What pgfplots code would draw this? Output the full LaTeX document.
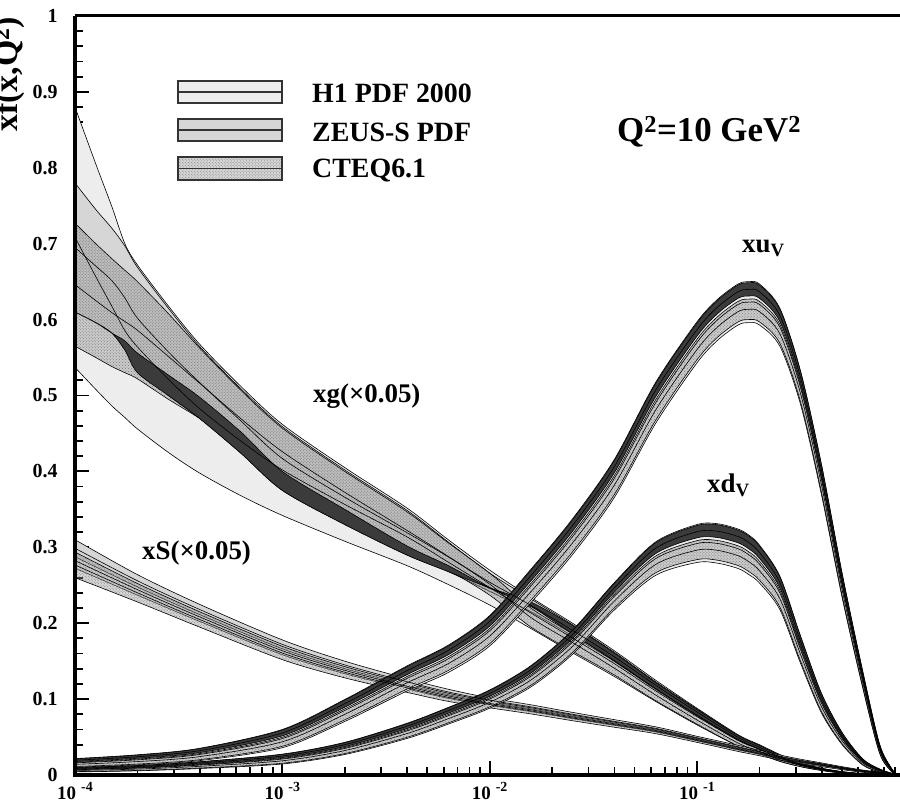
\documentclass[border=0pt]{standalone}
\usepackage{fontspec}
\setmainfont{Liberation Serif}
\usepackage{pgfplots}
\pgfplotsset{compat=1.18}
\usepackage{pgfplotstable}
\usepgfplotslibrary{fillbetween}
\usetikzlibrary{patterns}

\definecolor{hone}{gray}{0.93}
\definecolor{zmed}{gray}{0.84}
\definecolor{zdark}{gray}{0.23}

\tikzset{
  h1band/.style={fill=hone, draw=black, line width=0.6bp},
  zmedband/.style={fill=zmed, draw=black, line width=0.6bp},
  zdarkband/.style={fill=zdark, draw=black, line width=0.6bp},
  cteqband/.style={fill=black!40, fill opacity=0.4, draw=black, draw opacity=1,
    line width=0.6bp, postaction={pattern=crosshatch dots, pattern color=black!75, fill opacity=0.6}},
  centralline/.style={black, line width=0.6bp},
}

% gluon xg (x0.05): H1, ZEUS-S, CTEQ6.1 band edges and the dark ZEUS-S strip
\pgfplotstableread{
x hl hh zl zh cl ch dl dh
1e-4 0.537 0.880 0.610 0.780 0.565 0.727 0.610 0.610
1.26e-4 0.508 0.805 0.596 0.745 0.550 0.700 0.596 0.596
1.51e-4 0.486 0.748 0.582 0.720 0.538 0.680 0.582 0.582
1.74e-4 0.471 0.700 0.560 0.697 0.530 0.665 0.560 0.572
2e-4 0.456 0.672 0.535 0.669 0.522 0.650 0.530 0.556
2.82e-4 0.425 0.618 0.500 0.615 0.495 0.608 0.500 0.527
3.98e-4 0.398 0.568 0.470 0.565 0.470 0.563 0.470 0.498
6.31e-4 0.368 0.512 0.424 0.509 0.432 0.507 0.424 0.452
1e-3 0.342 0.462 0.375 0.459 0.395 0.457 0.375 0.400
2e-3 0.308 0.405 0.330 0.402 0.345 0.400 0.330 0.350
3.98e-3 0.276 0.352 0.290 0.349 0.298 0.347 0.290 0.302
6.31e-3 0.251 0.310 0.268 0.307 0.270 0.306 0.268 0.276
1e-2 0.224 0.270 0.242 0.266 0.237 0.266 0.246 0.247
1.58e-2 0.193 0.234 0.215 0.232 0.195 0.220 0.222 0.228
2.51e-2 0.161 0.200 0.183 0.198 0.163 0.186 0.186 0.197
3.98e-2 0.130 0.164 0.150 0.162 0.132 0.150 0.151 0.161
6.31e-2 0.097 0.125 0.114 0.123 0.098 0.113 0.114 0.122
0.1 0.066 0.088 0.079 0.087 0.067 0.078 0.079 0.086
0.158 0.038 0.053 0.047 0.052 0.038 0.046 0.047 0.052
0.2 0.028 0.040 0.034 0.039 0.028 0.034 0.034 0.039
0.251 0.018 0.027 0.022 0.026 0.018 0.022 0.022 0.026
0.316 0.011 0.016 0.013 0.0155 0.011 0.014 0.013 0.0155
0.398 0.006 0.009 0.0075 0.0088 0.006 0.0076 0.0075 0.0088
0.501 0.0025 0.0045 0.0035 0.0043 0.0025 0.0036 0.0035 0.0043
0.631 0.0008 0.0018 0.0013 0.0017 0.0008 0.0014 0.0013 0.0017
0.759 0.0002 0.0006 0.0004 0.0006 0.0002 0.0005 0.0004 0.0006
0.871 0 0.0002 0.0001 0.0002 0 0.0001 0.0001 0.0002
0.922 0 0 0 0 0 0 0 0
}\xg

% sea xS (x0.05): central value c and half width h of the combined band
\pgfplotstableread{
x c h
1e-4 0.285 0.025
2e-4 0.246 0.018
3.98e-4 0.210 0.015
1e-3 0.165 0.013
2e-3 0.139 0.011
3.98e-3 0.118 0.009
6.31e-3 0.105 0.008
1e-2 0.095 0.0065
1.58e-2 0.0865 0.006
2.51e-2 0.077 0.0055
3.98e-2 0.068 0.005
6.31e-2 0.059 0.0045
0.1 0.047 0.004
0.126 0.041 0.004
0.158 0.035 0.004
0.178 0.032 0.0038
0.2 0.029 0.0036
0.251 0.023 0.0033
0.316 0.0178 0.003
0.398 0.0135 0.0025
0.501 0.009 0.002
0.631 0.005 0.0015
0.759 0.003 0.001
0.871 0.0012 0.0005
0.922 0.0005 0.0002
}\xs

% valence xu_v
\pgfplotstableread{
x c h
1e-4 0.016 0.0056
2e-4 0.020 0.0066
3.98e-4 0.027 0.0081
1e-3 0.048 0.012
2e-3 0.085 0.0145
3.98e-3 0.127 0.0165
6.31e-3 0.153 0.018
1e-2 0.190 0.020
1.58e-2 0.249 0.022
2.51e-2 0.314 0.0235
3.98e-2 0.390 0.025
6.31e-2 0.490 0.027
0.1 0.570 0.027
0.126 0.600 0.027
0.158 0.620 0.027
0.178 0.623 0.027
0.2 0.620 0.027
0.251 0.590 0.025
0.316 0.510 0.022
0.398 0.390 0.020
0.501 0.250 0.016
0.631 0.125 0.011
0.759 0.035 0.006
0.871 0.006 0.002
0.922 0.001 0.0005
}\uv

% valence xd_v
\pgfplotstableread{
x c h
1e-4 0.007 0.003
2e-4 0.009 0.0035
3.98e-4 0.013 0.0045
1e-3 0.021 0.0065
2e-3 0.035 0.008
3.98e-3 0.058 0.010
6.31e-3 0.078 0.011
1e-2 0.100 0.012
1.58e-2 0.130 0.014
2.51e-2 0.175 0.016
3.98e-2 0.235 0.018
6.31e-2 0.285 0.022
0.1 0.305 0.025
0.126 0.305 0.026
0.158 0.298 0.026
0.178 0.290 0.026
0.2 0.278 0.025
0.251 0.240 0.022
0.316 0.165 0.018
0.398 0.095 0.013
0.501 0.048 0.008
0.631 0.017 0.004
0.759 0.006 0.002
0.871 0.0015 0.0007
0.922 0.0003 0.0002
}\dv

% central lines of the gluon bands
\pgfplotstablecreatecol[create col/expr={(\thisrow{hl}+\thisrow{hh})/2}]{hm}{\xg}
\pgfplotstablecreatecol[create col/expr={(\thisrow{zl}+\thisrow{zh})/2}]{zm}{\xg}
\pgfplotstablecreatecol[create col/expr={(\thisrow{cl}+\thisrow{ch})/2}]{cm}{\xg}

% split of the valence bands into the three fits
\newcommand{\valencecols}[1]{%
  \pgfplotstablecreatecol[create col/expr={\thisrow{c}-\thisrow{h}}]{hl}{#1}%
  \pgfplotstablecreatecol[create col/expr={\thisrow{c}+\thisrow{h}}]{hh}{#1}%
  \pgfplotstablecreatecol[create col/expr={\thisrow{c}+0.3*\thisrow{h}}]{zl}{#1}%
  \pgfplotstablecreatecol[create col/expr={\thisrow{c}+0.95*\thisrow{h}}]{zh}{#1}%
  \pgfplotstablecreatecol[create col/expr={\thisrow{c}-0.85*\thisrow{h}}]{cl}{#1}%
  \pgfplotstablecreatecol[create col/expr={\thisrow{c}+0.15*\thisrow{h}}]{ch}{#1}%
  \pgfplotstablecreatecol[create col/expr={\thisrow{c}}]{hm}{#1}%
  \pgfplotstablecreatecol[create col/expr={\thisrow{c}+0.62*\thisrow{h}}]{zm}{#1}%
  \pgfplotstablecreatecol[create col/expr={\thisrow{c}-0.35*\thisrow{h}}]{cm}{#1}%
}
\valencecols{\uv}
\valencecols{\dv}

\pgfplotstablecreatecol[create col/expr={\thisrow{c}-0.5*\thisrow{h}}]{hl}{\xs}
\pgfplotstablecreatecol[create col/expr={\thisrow{c}+0.3*\thisrow{h}}]{hh}{\xs}
\pgfplotstablecreatecol[create col/expr={\thisrow{c}+0.1*\thisrow{h}}]{zl}{\xs}
\pgfplotstablecreatecol[create col/expr={\thisrow{c}+\thisrow{h}}]{zh}{\xs}
\pgfplotstablecreatecol[create col/expr={\thisrow{c}-\thisrow{h}}]{cl}{\xs}
\pgfplotstablecreatecol[create col/expr={\thisrow{c}+0.35*\thisrow{h}}]{ch}{\xs}
\pgfplotstablecreatecol[create col/expr={\thisrow{c}-0.1*\thisrow{h}}]{hm}{\xs}
\pgfplotstablecreatecol[create col/expr={\thisrow{c}+0.55*\thisrow{h}}]{zm}{\xs}
\pgfplotstablecreatecol[create col/expr={\thisrow{c}-0.33*\thisrow{h}}]{cm}{\xs}

% #1 unique name, #2 table, #3 lower column, #4 upper column, #5 style
\newcommand{\band}[5]{%
  \addplot[draw=none, smooth, forget plot, name path=#1A] table[x=x, y=#3]{#2};
  \addplot[draw=none, smooth, forget plot, name path=#1B] table[x=x, y=#4]{#2};
  \addplot[#5, forget plot] fill between[of=#1A and #1B];
}
\newcommand{\midline}[2]{\addplot[centralline, smooth, forget plot] table[x=x, y=#2]{#1};}

\newcommand{\tenexp}[1]{10\hspace{5bp}\raisebox{8bp}{\fontsize{14}{14}\selectfont #1}}

\begin{document}
\begin{tikzpicture}
\begin{axis}[
  at={(0,0)}, anchor=south west,
  scale only axis, width=822bp, height=759bp,
  xmode=log, xmin=1e-4, xmax=0.922, ymin=0, ymax=1,
  axis line style={draw=none},
  tick align=inside, xtick pos=left, ytick pos=left,
  xtick={1e-4,1e-3,1e-2,1e-1},
  xticklabels={\tenexp{-4},\tenexp{-3},\tenexp{-2},\tenexp{-1}},
  minor xtick={2e-4,3e-4,4e-4,5e-4,6e-4,7e-4,8e-4,9e-4,
               2e-3,3e-3,4e-3,5e-3,6e-3,7e-3,8e-3,9e-3,
               2e-2,3e-2,4e-2,5e-2,6e-2,7e-2,8e-2,9e-2,
               0.2,0.3,0.4,0.5,0.6,0.7,0.8,0.9},
  ytick={0,0.1,0.2,0.3,0.4,0.5,0.6,0.7,0.8,0.9,1},
  yticklabels={0,0.1,0.2,0.3,0.4,0.5,0.6,0.7,0.8,0.9,1},
  minor y tick num=4,
  major tick length=14bp, minor tick length=8bp,
  every tick/.style={black, line width=1.8bp},
  xticklabel style={font=\fontsize{19}{21}\selectfont\bfseries, yshift=-4bp},
  yticklabel style={font=\fontsize{20}{22}\selectfont\bfseries, xshift=-14bp},
]
% gluon
\band{gH}{\xg}{hl}{hh}{h1band}
\band{gZ}{\xg}{zl}{zh}{zmedband}
\band{gC}{\xg}{cl}{ch}{cteqband}
\band{gD}{\xg}{dl}{dh}{zdarkband}
\midline{\xg}{hm}\midline{\xg}{zm}\midline{\xg}{cm}
% sea
\band{sH}{\xs}{hl}{hh}{h1band}
\band{sZ}{\xs}{zl}{zh}{zmedband}
\band{sC}{\xs}{cl}{ch}{cteqband}
\midline{\xs}{hm}\midline{\xs}{zm}\midline{\xs}{cm}
% d valence
\band{dH}{\dv}{hl}{hh}{h1band}
\band{dZ}{\dv}{zl}{zh}{zdarkband}
\band{dC}{\dv}{cl}{ch}{cteqband}
\midline{\dv}{hm}\midline{\dv}{zm}\midline{\dv}{cm}
% u valence
\band{uH}{\uv}{hl}{hh}{h1band}
\band{uZ}{\uv}{zl}{zh}{zdarkband}
\band{uC}{\uv}{cl}{ch}{cteqband}
\midline{\uv}{hm}\midline{\uv}{zm}\midline{\uv}{cm}
\end{axis}

% frame: left, bottom and top
\draw[line width=3bp] (0,759bp) -- (0,0) -- (825bp,0);
\draw[line width=3bp] (0,759bp) -- (825bp,759bp);

% legend
\filldraw[fill=hone, draw=black!80, line width=1.5bp] (103bp,672bp) rectangle (207bp,694bp);
\draw[line width=1.5bp, black!80] (103bp,683bp) -- (207bp,683bp);
\filldraw[fill=zmed, draw=black!80, line width=1.5bp] (103bp,634bp) rectangle (207bp,656bp);
\draw[line width=1.5bp, black!80] (103bp,645bp) -- (207bp,645bp);
\path[cteqband, draw=none] (103bp,595bp) rectangle (207bp,618bp);
\draw[line width=1.5bp, black!80] (103bp,595bp) rectangle (207bp,618bp);
\draw[line width=1.5bp, black!80] (103bp,606.5bp) -- (207bp,606.5bp);

\begin{scope}[every node/.style={anchor=base west, inner sep=0pt, font=\fontsize{28}{30}\selectfont\bfseries}]
\node at (237bp,672bp) {H1 PDF 2000};
\node at (237bp,633bp) {ZEUS-S PDF};
\node at (237bp,597bp) {CTEQ6.1};
\end{scope}

\node[anchor=base west, inner sep=0pt, font=\fontsize{35}{38}\selectfont\bfseries]
  at (542bp,633bp) {Q\textsuperscript{2}=10 GeV\textsuperscript{2}};
\begin{scope}[every node/.style={anchor=base west, inner sep=0pt, font=\fontsize{27}{30}\selectfont\bfseries}]
\node at (667bp,522bp) {xu\textsubscript{V}};
\node at (632bp,282bp) {xd\textsubscript{V}};
\node at (238bp,372bp) {xg(×0.05)};
\node at (67bp,215bp) {xS(×0.05)};
\end{scope}

\node[rotate=90, anchor=base west, inner sep=0pt, font=\fontsize{34}{36}\selectfont\bfseries]
  at (-57bp,643bp) {xf(x,Q\textsuperscript{2})};

\pgfresetboundingbox
\path[use as bounding box] (-75bp,-33bp) rectangle (825bp,775bp);
\end{tikzpicture}
\end{document}
